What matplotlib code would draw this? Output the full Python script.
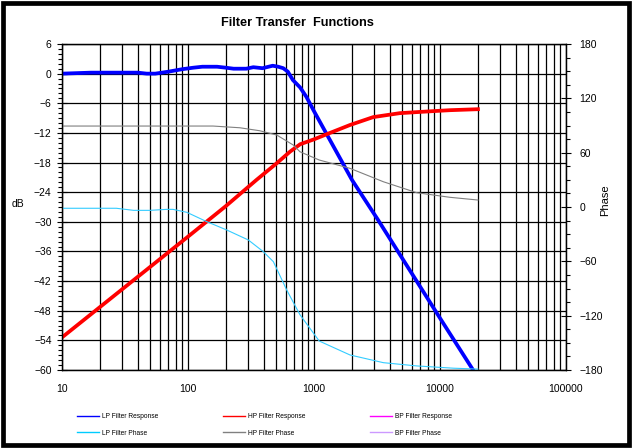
import matplotlib
matplotlib.use('Agg')
import matplotlib.pyplot as plt
from matplotlib import ticker
from matplotlib.lines import Line2D
from matplotlib.patches import Rectangle

plt.rcParams['font.family'] = ['Liberation Sans', 'DejaVu Sans']

# LP filter response (dB)
lp_freq = [10, 17, 30, 40, 47, 55, 70, 90, 110, 130, 170, 200, 230, 290, 330,
           390, 470, 520, 570, 620, 680, 776, 870, 1000, 2000, 3220, 10000, 18300, 20000]
lp_db = [0.0, 0.2, 0.2, 0.2, 0.0, 0.0, 0.4, 0.9, 1.2, 1.4, 1.4, 1.2, 1.0, 1.0, 1.3,
         1.1, 1.6, 1.4, 1.1, 0.4, -1.3, -2.8, -4.7, -7.6, -21.5, -29.6, -49.5, -60.0, -61.7]

# HP filter response (dB)
hp_freq = [10, 100, 200, 350, 508, 645, 776, 1000, 1340, 1930, 2950, 4800, 8700, 12000, 20000]
hp_db = [-53.4, -33.0, -26.8, -21.5, -18.1, -15.8, -14.3, -13.3, -12.0, -10.4, -8.8,
         -8.0, -7.6, -7.4, -7.2]

# LP filter phase (degrees)
lp_ph_freq = [10, 27, 37, 50, 68, 76, 98, 141, 203, 301, 396, 476, 607, 774, 1100,
              1930, 3550, 6530, 12770, 20000]
lp_phase = [-1.4, -1.4, -3.7, -3.7, -2.6, -2.6, -5.9, -16.2, -25.4, -36.4, -49.3,
            -60.4, -91.6, -119.0, -148.0, -163.4, -171.9, -175.5, -178.0, -179.0]

# HP filter phase (degrees)
hp_ph_freq = [10, 158, 258, 371, 506, 685, 774, 1100, 1930, 3550, 6530, 12000, 20000]
hp_phase = [89.4, 89.4, 87.5, 84.2, 79.5, 68.4, 61.0, 51.9, 42.7, 27.9, 15.8, 10.7, 7.7]

x_ticks = [10, 100, 1000, 10000, 100000]
db_ticks = list(range(-60, 7, 6))
phase_ticks = list(range(-180, 181, 60))

fig = plt.figure(figsize=(6.34, 4.48), dpi=100)
ax = fig.add_axes([62 / 634, 78 / 448, 504 / 634, 326 / 448])
ax2 = ax.twinx()

ax.set_xscale('log')
ax.set_xlim(10, 100000)
ax.set_ylim(-60, 6)
ax.set_xticks(x_ticks)
ax.xaxis.set_major_formatter(ticker.FuncFormatter(lambda v, p: f'{v:g}'))
ax.xaxis.set_minor_locator(ticker.LogLocator(base=10, subs=range(2, 10)))
ax.xaxis.set_minor_formatter(ticker.NullFormatter())
ax.set_yticks(db_ticks)
ax.yaxis.set_minor_locator(ticker.MultipleLocator(1))

ax.grid(True, which='both', axis='x', color='black', lw=0.9)
ax.grid(True, which='major', axis='y', color='black', lw=0.9)
ax.tick_params(axis='x', which='both', length=0, pad=10, labelsize=7.5)
ax.tick_params(axis='y', which='major', direction='inout', length=7, width=0.8, pad=4, labelsize=7.5)
ax.tick_params(axis='y', which='minor', direction='out', length=3, width=0.8)

ax2.set_ylim(-180, 180)
ax2.set_yticks(phase_ticks)
ax2.yaxis.set_minor_locator(ticker.MultipleLocator(15))
ax2.tick_params(axis='y', which='major', direction='inout', length=7, width=0.8, pad=6, labelsize=7.5)
ax2.tick_params(axis='y', which='minor', direction='out', length=3, width=0.8)

ax.plot(lp_freq, lp_db, color='#0000FF', lw=2.7)
ax.plot(hp_freq, hp_db, color='#FF0000', lw=2.7)
ax2.plot(lp_ph_freq, lp_phase, color='#33CCFF', lw=0.8)
ax2.plot(hp_ph_freq, hp_phase, color='#808080', lw=0.8)

for a in (ax, ax2):
    for s in a.spines.values():
        s.set_linewidth(0.9)

fig.text(297.5 / 634, 1 - 23.5 / 448, 'Filter Transfer  Functions', fontsize=9.2,
         fontweight='bold', ha='center', va='center')
ax.set_ylabel('dB', rotation=0, fontsize=7.5, ha='center', va='center')
ax.yaxis.set_label_coords((18 - 62) / 504, (370 - 204) / 326)
ax2.set_ylabel('Phase', rotation=90, fontsize=8, ha='center', va='center')
ax2.yaxis.set_label_coords((605 - 62) / 504, (370 - 200) / 326)

handles = [
    Line2D([], [], color='#0000FF', lw=1),
    Line2D([], [], color='#00CCFF', lw=1),
    Line2D([], [], color='#FF0000', lw=1),
    Line2D([], [], color='#808080', lw=1),
    Line2D([], [], color='#FF00FF', lw=1),
    Line2D([], [], color='#CC99FF', lw=1),
]
labels = ['LP Filter Response', 'LP Filter Phase', 'HP Filter Response',
          'HP Filter Phase', 'BP Filter Response', 'BP Filter Phase']
fig.legend(handles, labels, ncol=3, loc='upper left', bbox_to_anchor=(74 / 634, 1 - 410 / 448),
           frameon=False, fontsize=4.8, handlelength=3.3, handletextpad=0.45,
           columnspacing=9.7, labelspacing=1.4, borderpad=0)

fig.add_artist(Rectangle((3 / 634, 3.5 / 448), 626 / 634, 441 / 448, transform=fig.transFigure,
                         fill=False, edgecolor='black', lw=3.4))

fig.savefig('out.png', dpi=100)
